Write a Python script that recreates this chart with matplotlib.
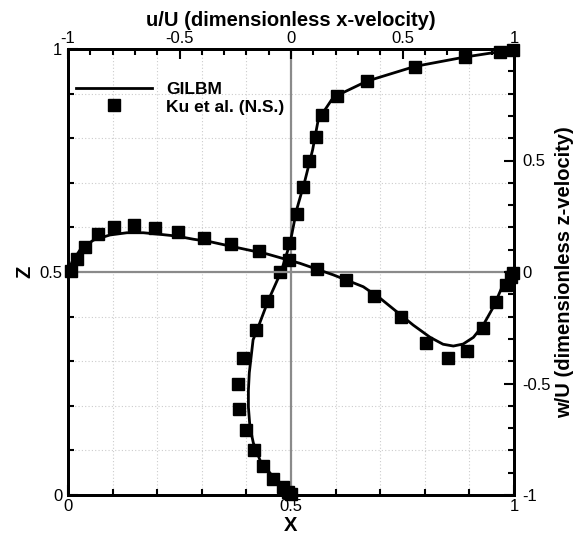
import matplotlib
matplotlib.use('Agg')
import matplotlib.pyplot as plt
from matplotlib.ticker import MultipleLocator

# ---- u-profile along the vertical centreline (top axis u/U, left axis Z) ----
gilbm_u = [1.0, 0.937, 0.780, 0.556, 0.341, 0.220, 0.182, 0.122, 0.097, 0.063,
           0.025, -0.004, -0.045, -0.103, -0.152, -0.170, -0.187, -0.191, -0.191,
           -0.184, -0.169, -0.139, -0.094, -0.049, 0.0]
gilbm_u_z = [1.0, 0.994, 0.982, 0.961, 0.928, 0.899, 0.886, 0.841, 0.774, 0.706,
             0.639, 0.565, 0.500, 0.435, 0.370, 0.348, 0.274, 0.235, 0.197,
             0.152, 0.117, 0.078, 0.049, 0.027, 0.0]
ku_u = [0.997, 0.937, 0.780, 0.556, 0.341, 0.206, 0.139, 0.110, 0.082, 0.055,
        0.029, -0.010, -0.049, -0.107, -0.157, -0.214, -0.236, -0.233, -0.203,
        -0.165, -0.124, -0.079, -0.035, -0.012, -0.001]
ku_u_z = [0.998, 0.994, 0.981, 0.960, 0.929, 0.895, 0.851, 0.802, 0.749, 0.691,
          0.629, 0.564, 0.499, 0.434, 0.369, 0.307, 0.250, 0.193, 0.146,
          0.101, 0.065, 0.035, 0.019, 0.007, 0.002]

# ---- w-profile along the horizontal centreline (bottom axis X, right axis w/U) ----
gilbm_w_x = [0.0, 0.009, 0.027, 0.057, 0.094, 0.132, 0.169, 0.206, 0.244, 0.281,
             0.318, 0.371, 0.446, 0.520, 0.595, 0.662, 0.700, 0.737, 0.774,
             0.812, 0.841, 0.864, 0.886, 0.909, 0.931, 0.954, 0.972, 0.987, 1.0]
gilbm_w = [0.0, 0.045, 0.099, 0.143, 0.166, 0.176, 0.176, 0.169, 0.161, 0.147,
           0.136, 0.113, 0.081, 0.039, -0.013, -0.066, -0.118, -0.178, -0.238,
           -0.293, -0.324, -0.332, -0.323, -0.293, -0.238, -0.156, -0.073, -0.021, 0.0]
ku_w_x = [0.006, 0.0195, 0.038, 0.068, 0.104, 0.148, 0.195, 0.247, 0.304, 0.365,
          0.429, 0.496, 0.558, 0.624, 0.687, 0.746, 0.803, 0.853, 0.895, 0.931,
          0.960, 0.982, 0.993, 0.997]
ku_w = [0.004, 0.058, 0.113, 0.169, 0.203, 0.211, 0.196, 0.178, 0.151, 0.126,
        0.093, 0.055, 0.012, -0.037, -0.106, -0.202, -0.317, -0.384, -0.353,
        -0.250, -0.133, -0.058, -0.021, -0.003]

x_ticks = [0, 0.5, 1]
x_ticklabels = ['0', '0.5', '1']
z_ticks = [0, 0.5, 1]
z_ticklabels = ['0', '0.5', '1']
u_ticks = [-1, -0.5, 0, 0.5, 1]
u_ticklabels = ['-1', '-0.5', '0', '0.5', '1']
w_ticks = [-1, -0.5, 0, 0.5, 1]
w_ticklabels = ['-1', '-0.5', '0', '0.5', '']

legend_labels = ['GILBM', 'Ku et al. (N.S.)']

plt.rcParams['font.family'] = ['Liberation Sans', 'DejaVu Sans']

W, H = 581, 534
fig = plt.figure(figsize=(W / 100, H / 100), dpi=100)
ax = fig.add_axes([68 / W, 1 - 495 / H, 446 / W, 446 / H])
ax.set_xlim(0, 1)
ax.set_ylim(0, 1)
ax_top = ax.twiny()
ax_top.set_xlim(-1, 1)
ax_right = ax.twinx()
ax_right.set_ylim(-1, 1)

tick_font = 12
lab_font = 14.5

# main axes: bottom & left
ax.set_xticks(x_ticks)
ax.set_xticklabels(x_ticklabels, fontsize=tick_font)
ax.set_yticks(z_ticks)
ax.set_yticklabels(z_ticklabels, fontsize=tick_font)
ax.xaxis.set_minor_locator(MultipleLocator(0.1))
ax.yaxis.set_minor_locator(MultipleLocator(0.1))
ax.tick_params(which='both', direction='in', top=False, right=False, width=1.5)
ax.tick_params(which='major', length=7)
ax.tick_params(which='minor', length=4)
ax.tick_params(axis='x', pad=3)
ax.tick_params(axis='y', pad=4)

ax_top.set_xticks(u_ticks)
ax_top.set_xticklabels(u_ticklabels, fontsize=tick_font)
ax_top.xaxis.set_minor_locator(MultipleLocator(0.1))
ax_top.tick_params(which='both', direction='in', width=1.5, pad=2)
ax_top.tick_params(which='major', length=7)
ax_top.tick_params(which='minor', length=4)

ax_right.set_yticks(w_ticks)
ax_right.set_yticklabels(w_ticklabels, fontsize=tick_font)
ax_right.yaxis.set_minor_locator(MultipleLocator(0.1))
ax_right.tick_params(which='both', direction='in', width=1.5, pad=6)
ax_right.tick_params(which='major', length=7)
ax_right.tick_params(which='minor', length=4)

for a in (ax, ax_top, ax_right):
    for s in a.spines.values():
        s.set_linewidth(2)
    a.patch.set_visible(False)

# grid + zero lines
ax.set_axisbelow(True)
ax.grid(which='both', linestyle=(0, (1, 2)), color='#cccccc', linewidth=0.8)
ax_top.axvline(0, color='#8a8a8a', lw=1.6, zorder=1)
ax_right.axhline(0, color='#8a8a8a', lw=1.6, zorder=1)

# data
l1, = ax_top.plot(gilbm_u, gilbm_u_z, color='black', lw=2, zorder=3)
m1, = ax_top.plot(ku_u, ku_u_z, linestyle='none', marker='s', color='black',
                  markersize=8, clip_on=False, zorder=4)
ax_right.plot(gilbm_w_x, gilbm_w, color='black', lw=2, zorder=3)
ax_right.plot(ku_w_x, ku_w, linestyle='none', marker='s', color='black',
              markersize=8, clip_on=False, zorder=4)

# labels
ax.set_xlabel('X', fontsize=lab_font, fontweight='bold', labelpad=1)
ax.set_ylabel('Z', fontsize=lab_font, fontweight='bold', labelpad=4)
ax_top.set_xlabel('u/U (dimensionless x-velocity)', fontsize=lab_font,
                  fontweight='bold', labelpad=4)
ax_right.set_ylabel('w/U (dimensionless z-velocity)', fontsize=lab_font,
                    fontweight='bold', labelpad=3)

ax_right.legend([l1, m1], legend_labels, loc='center left',
                bbox_to_anchor=(0.018, 0.89), frameon=False,
                prop=dict(weight='bold', size=12.5), handlelength=4.4,
                handletextpad=0.8, borderpad=0, borderaxespad=0,
                labelspacing=0.15)

fig.savefig('out.png', dpi=100)
